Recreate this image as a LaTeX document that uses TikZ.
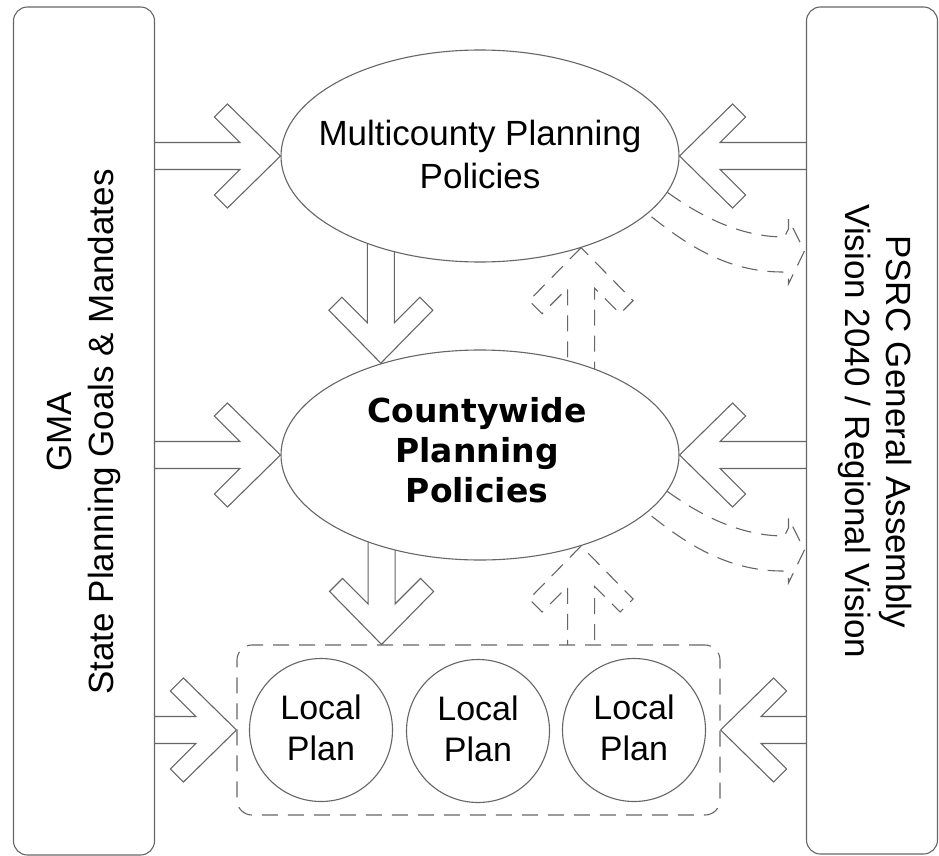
\documentclass[tikz,border=0pt]{standalone}
\usepackage{fontspec}
\setmainfont{Liberation Sans}
\newfontfamily\cwfont{DejaVu Sans}
\usetikzlibrary{calc,backgrounds,shapes.geometric}
\tikzset{
  ln/.style={draw=black!60, line width=1.1pt},
  dsh/.style={dash pattern=on 16pt off 10pt},
  sidebox/.style={ln, fill=white, rounded corners=14pt, inner sep=0pt},
  ell/.style={ln, fill=white, ellipse, inner sep=0pt},
  lcirc/.style={ln, fill=white, circle, inner sep=0pt, minimum size=143pt,
     align=center, font=\fontsize{34}{41}\selectfont, text depth=5.2pt},
  vtext/.style={align=center, inner sep=0pt, font=\fontsize{35}{41.5}\selectfont},
  barrowline/.style={ln, fill=white},
}
% block arrow from #2 (tail) to #3 (tip)
\newcommand\barrow[3][]{%
  \draw[barrowline,#1] let \p1=($(#3)-(#2)$), \n1={atan2(\y1,\x1)}, \n2={veclen(\x1,\y1)} in
   {[shift={(#3)}, rotate=\n1]
   (0pt,0pt) -- (-53pt,52pt) -- (-66pt,39pt) -- (-40.5pt,13.5pt) -- ({-\n2-8pt},13.5pt)
   -- ({-\n2-8pt},-13.5pt) -- (-40.5pt,-13.5pt) -- (-66pt,-39pt) -- (-53pt,-52pt) -- cycle};
}
% curved dashed arrow from ellipse #1 to tip #2
\newcommand\carrow[2]{%
  \draw[ln,dsh] (#1.-11) .. controls +(32,23) and +(-45,0) .. ($(#2)+(-20,-14)$)
    -- ($(#2)+(-16,-22)$) -- ($(#2)+(-16,-32)$) -- (#2) -- ($(#2)+(-16,33)$)
    -- ($(#2)+(-16,23)$) -- ($(#2)+(-22,21)$)
    .. controls +(-58,0) and +(35,28) .. (#1.-19.8);
}
\begin{document}
\begin{tikzpicture}[x=1pt,y=-1pt]
\useasboundingbox (0,0) rectangle (939,856);
% side boxes
\node[sidebox, minimum width=141pt, minimum height=848pt] (gma) at (84,431) {};
\node[sidebox, minimum width=131pt, minimum height=847pt] (psrc) at (872,430.5) {};
\node[vtext, rotate=90] (gmatext) at (84,432) {GMA\\State Planning Goals \& Mandates};
\node[vtext, rotate=-90] (psrctext) at (875,431.5) {PSRC General Assembly\\Vision 2040 / Regional Vision};
% ellipses
\node[ell, minimum width=398pt, minimum height=212pt] (mcp) at (480,156) {};
\node[ell, minimum width=398pt, minimum height=210pt] (cpp) at (480,455) {};
\node[align=center, inner sep=0pt, font=\fontsize{35}{43}\selectfont] (mcptext) at (480,154.3) {Multicounty Planning\\Policies};
\node[align=center, inner sep=0pt, font=\cwfont\bfseries\fontsize{33}{40}\selectfont] (cpptext) at (477,450) {Countywide\\Planning\\Policies};
% local plans
\node[ln, dsh, fill=white, rounded corners=15pt, minimum width=483pt, minimum height=170pt, inner sep=0pt] (lp) at (478.5,730) {};
\node[lcirc] (lp1) at (321,730) {Local\\Plan};
\node[lcirc] (lp2) at (478,731) {Local\\Plan};
\node[lcirc] (lp3) at (634,730) {Local\\Plan};
% curved dashed arrows
\coordinate (t1) at ($(psrc.west |- mcp.center)+(-1.5,95)$);
\coordinate (t2) at ($(psrc.west |- cpp.center)+(-1.5,95)$);
\carrow{mcp}{t1}
\carrow{cpp}{t2}
\begin{pgfonlayer}{background}
\barrow{gma.east |- mcp.west}{mcp.west}
\barrow{psrc.west |- mcp.east}{mcp.east}
\barrow{gma.east |- cpp.west}{cpp.west}
\barrow{psrc.west |- cpp.east}{cpp.east}
\barrow{gma.east |- lp.west}{lp.west}
\barrow{psrc.west |- lp.east}{lp.east}
\barrow{mcp.-137.5}{mcp.-137.5 |- cpp.137.5}
\barrow{cpp.-137.5}{cpp.-137.5 |- lp.north}
\barrow[dsh]{cpp.42.5}{cpp.42.5 |- mcp.-42.5}
\barrow[dsh]{lp.north -| cpp.-42.5}{cpp.-42.5}
\end{pgfonlayer}
\end{tikzpicture}
\end{document}
